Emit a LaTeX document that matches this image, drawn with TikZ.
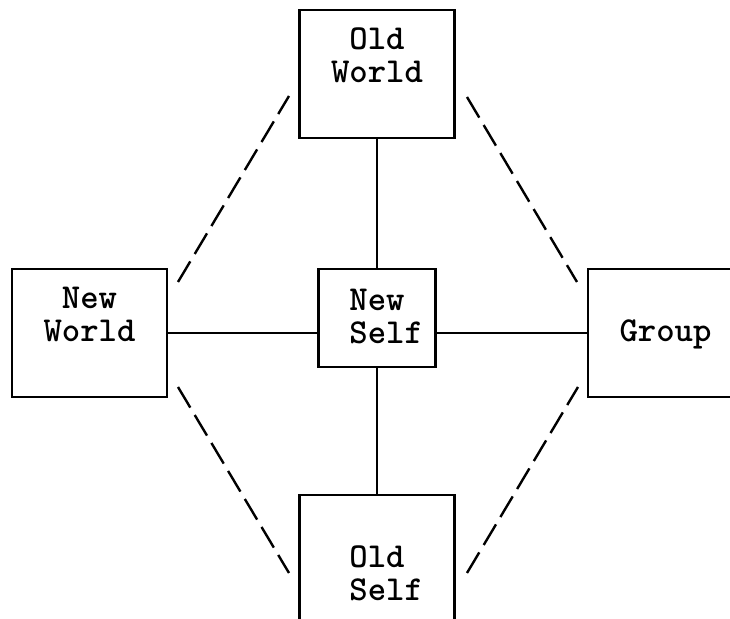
\documentclass[tikz,border=0pt]{standalone}
\usepackage{fontspec}
\usetikzlibrary{positioning}
\newcommand{\lnstrut}{\rule[-3.95pt]{0pt}{16.5pt}}
\tikzset{
  boxnode/.style={draw, line width=1.3pt, inner sep=0pt, align=center,
    font=\ttfamily\bfseries\fontsize{17.5}{16.5}\selectfont,
    minimum width=77.5pt, minimum height=64pt},
  selfnode/.style={boxnode, align=left, minimum width=58.5pt, minimum height=49pt},
  solidlink/.style={line width=1pt},
  dashlink/.style={line width=1.2pt, dash pattern=on 12pt off 4.3pt},
}

\begin{document}
\begin{tikzpicture}[x=0.5pt, y=-0.5pt, line cap=butt]
  \useasboundingbox (0,0) rectangle (730,619);
  % boxes
  \node[boxnode] (oldworld) at (377,74) {Old\lnstrut\\World\lnstrut\\\lnstrut};
  \node[boxnode] (newworld) at (89.5,333) {New\lnstrut\\World\lnstrut\\\lnstrut};
  \node[selfnode] (newself) at (377,318) {\phantom{x}New\lnstrut\\\phantom{x}Self\lnstrut};
  \node[boxnode] (group) at (665.5,333) {Group\lnstrut};
  \node[boxnode, align=left] (oldself) at (377,559) {\lnstrut\\\phantom{x}Old\lnstrut\\\phantom{x}Self\lnstrut};
  % solid links
  \draw[solidlink] (oldworld.south) -- (newself.north);
  \draw[solidlink] (newself.south) -- (oldself.north);
  \draw[solidlink] (newworld.east) -- (newworld.east -| newself.west);
  \draw[solidlink] (group.west) -- (group.west -| newself.east);
  % dashed ends
  \coordinate (nwup) at (178,282);
  \coordinate (owleft) at (289,96);
  \coordinate (owright) at (467,97);
  \coordinate (grup) at (577,282);
  \coordinate (nwdown) at (178,387);
  \coordinate (osleft) at (289,573);
  \coordinate (osright) at (467,573);
  \coordinate (grdown) at (578,387);
  \draw[dashlink] (nwup) -- (owleft);
  \draw[dashlink] (owright) -- (grup);
  \draw[dashlink] (nwdown) -- (osleft);
  \draw[dashlink] (osright) -- (grdown);
\end{tikzpicture}
\end{document}
